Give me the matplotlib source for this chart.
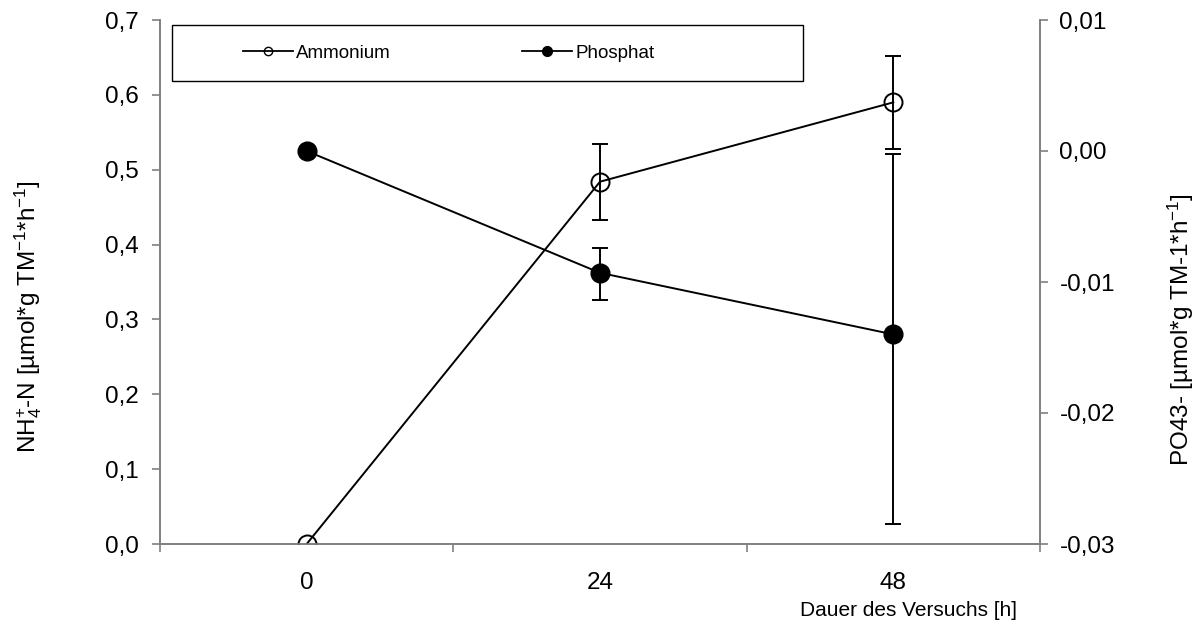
import matplotlib.pyplot as plt
import matplotlib.ticker as mticker
from matplotlib.lines import Line2D
from matplotlib.patches import Rectangle

plt.rcParams['font.family'] = ['Liberation Sans', 'DejaVu Sans']
plt.rcParams['mathtext.fontset'] = 'custom'
plt.rcParams['mathtext.rm'] = 'Liberation Sans'
plt.rcParams['mathtext.it'] = 'Liberation Sans'

nan = float('nan')
zeit = ['0', '24', '48']
ammonium = [0.0, 0.484, 0.590]
ammonium_err = [nan, 0.051, 0.062]
phosphat = [0.0, -0.0093, -0.0140]
phosphat_err_unten = [nan, 0.0021, 0.0145]
phosphat_err_oben = [nan, 0.0019, 0.0138]

grau = '#808080'
x = range(len(zeit))

fig = plt.figure(figsize=(12, 6.25), dpi=100)
ax = fig.add_axes([160 / 1200, 1 - 544 / 625, 880 / 1200, 524 / 625])
ax2 = ax.twinx()

ax.errorbar(x, ammonium, yerr=ammonium_err, color='black', lw=1.4,
            marker='o', ms=13, mfc='none', mec='black', mew=1.4,
            capsize=5.5, capthick=1.4, elinewidth=1.4, zorder=3)
ax2.errorbar(x, phosphat, yerr=[phosphat_err_unten, phosphat_err_oben],
             color='black', lw=1.4, marker='o', ms=13.5, mfc='black', mec='black',
             capsize=5.5, capthick=1.4, elinewidth=1.4, zorder=3)

ax.set_xlim(-0.5, 2.5)
ax.set_ylim(0, 0.7)
ax2.set_ylim(-0.03, 0.01)

ax.set_xticks(list(x))
ax.set_xticklabels(zeit)
ax.xaxis.set_minor_locator(mticker.FixedLocator([-0.5, 0.5, 1.5, 2.5]))
ax.tick_params(axis='x', which='major', length=0, pad=20, labelsize=17.5)
ax.tick_params(axis='x', which='minor', length=6, width=1.2, color=grau, direction='out')

ax.set_yticks([0, 0.1, 0.2, 0.3, 0.4, 0.5, 0.6, 0.7])
ax.yaxis.set_major_formatter(mticker.FuncFormatter(lambda v, p: f'{v:.1f}'.replace('.', ',')))
ax.tick_params(axis='y', length=6, width=1.2, color=grau, labelsize=17.5, pad=9)

ax2.set_yticks([-0.03, -0.02, -0.01, 0.0, 0.01])
ax2.yaxis.set_major_formatter(mticker.FuncFormatter(lambda v, p: f'{v:.2f}'.replace('.', ',')))
ax2.tick_params(axis='y', length=6, width=1.2, color=grau, labelsize=17.5, pad=8)

for a in (ax, ax2):
    a.spines['top'].set_visible(False)
    for s in ('left', 'right', 'bottom'):
        a.spines[s].set_color(grau)
        a.spines[s].set_linewidth(1.2)

ax.set_ylabel(r'NH$_4^{+}$-N [µmol*g TM$^{-1}$*h$^{-1}$]', fontsize=17.5)
ax.yaxis.set_label_coords(-116 / 880, 0.435)
ax2.set_ylabel(r'PO43- [µmol*g TM-1*h$^{-1}$]', fontsize=17.5)
ax2.yaxis.set_label_coords(1 + 126 / 880, 0.41)
fig.text(908 / 1200, 1 - 610 / 625, 'Dauer des Versuchs [h]', fontsize=15,
         ha='center', va='center')

# Legendenrahmen
ax.add_patch(Rectangle((12 / 880, 1 - 61 / 524), 631 / 880, 56 / 524,
                       transform=ax.transAxes, fill=False, edgecolor='black',
                       lw=1.0, zorder=5, clip_on=False))
handles = [
    Line2D([], [], color='black', lw=1.3, marker='o', ms=6, mfc='none', mec='black'),
    Line2D([], [], color='black', lw=1.3, marker='o', ms=7, mfc='black', mec='black'),
]
leg = ax.legend(handles, ['Ammonium', 'Phosphat'], ncol=2, loc='center left',
                bbox_to_anchor=(83 / 880, 1 - 33 / 524), frameon=False,
                fontsize=13.5, handlelength=2.65, handletextpad=0.2,
                columnspacing=7.0, borderpad=0, borderaxespad=0)
leg.set_zorder(5)

fig.savefig('out.png', dpi=100)
